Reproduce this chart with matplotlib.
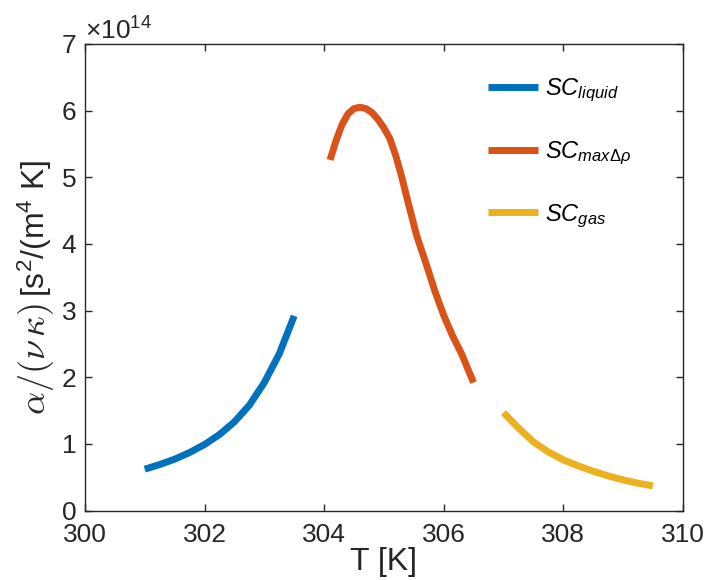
import matplotlib
matplotlib.use("Agg")
import matplotlib.pyplot as plt
from matplotlib.font_manager import FontProperties

plt.rcParams["font.family"] = ["Liberation Sans", "DejaVu Sans"]
plt.rcParams["mathtext.fontset"] = "custom"
plt.rcParams["mathtext.rm"] = "Liberation Sans"
plt.rcParams["mathtext.it"] = "Liberation Sans:italic"
plt.rcParams["mathtext.bf"] = "Liberation Sans:bold"

# 数据（单位 1e14）
t_liquid = [301.0, 301.25, 301.5, 301.75, 302.0, 302.25, 302.5, 302.75, 303.0, 303.25, 303.5]
v_liquid = [0.62, 0.69, 0.77, 0.87, 0.99, 1.14, 1.33, 1.58, 1.92, 2.35, 2.92]

t_max = [304.1, 304.2, 304.3, 304.4, 304.5, 304.6, 304.7, 304.8, 304.9, 305.0,
         305.1, 305.2, 305.3, 305.4, 305.55, 305.7, 305.85, 306.0, 306.15, 306.3, 306.5]
v_max = [5.26, 5.55, 5.79, 5.95, 6.03, 6.05, 6.03, 5.97, 5.87, 5.74,
         5.58, 5.32, 5.00, 4.64, 4.12, 3.72, 3.30, 2.93, 2.62, 2.35, 1.92]

t_gas = [307.0, 307.25, 307.5, 307.75, 308.0, 308.25, 308.5, 308.75, 309.0, 309.25, 309.5]
v_gas = [1.47, 1.24, 1.03, 0.88, 0.76, 0.67, 0.59, 0.52, 0.46, 0.41, 0.37]

labels = [r"$SC_{liquid}$", r"$SC_{max\Delta\rho}$", r"$SC_{gas}$"]
colors = ["#0072BD", "#D95319", "#EDB120"]

fig = plt.figure(figsize=(7.07, 5.8), dpi=100)
ax = fig.add_axes([0.1202, 0.1198, 0.8455, 0.8045])

for t, v, c, lab in zip([t_liquid, t_max, t_gas], [v_liquid, v_max, v_gas], colors, labels):
    ax.plot(t, [x * 1e14 for x in v], color=c, linewidth=5, solid_capstyle="butt", label=lab)

ax.set_xlim(300, 310)
ax.set_ylim(0, 7e14)
ax.set_xticks([300, 302, 304, 306, 308, 310])
ax.set_yticks([i * 1e14 for i in range(8)])
ax.ticklabel_format(axis="y", style="sci", scilimits=(0, 0), useMathText=True)

dark = "#262626"
for s in ax.spines.values():
    s.set_color(dark)
    s.set_linewidth(1.0)
ax.tick_params(direction="in", top=True, right=True, length=5, width=1.0,
               colors=dark, labelsize=19)
ax.tick_params(axis="x", pad=9)
ax.tick_params(axis="y", pad=6)
ax.yaxis.get_offset_text().set_fontsize(19)
ax.yaxis.get_offset_text().set_color(dark)

ax.set_xlabel("T [K]", fontsize=23, color=dark, labelpad=0)

# y 轴标签：希腊字母用 cm 字体，单位用无衬线
fig.text(0.0637, 0.4776, r"$\alpha/(\nu\,\kappa)$", rotation=90, rotation_mode="anchor",
         ha="right", va="baseline", fontsize=26, color=dark, math_fontfamily="cm")
fig.text(0.0637, 0.4879, r"[s$^2$/(m$^4$ K]", rotation=90, rotation_mode="anchor",
         ha="left", va="baseline", fontsize=23, color=dark)

leg = ax.legend(loc="upper left", bbox_to_anchor=(0.675, 0.93), frameon=False,
                prop=FontProperties(family="Liberation Sans", size=17),
                handlelength=2.1, handletextpad=0.3, labelspacing=1.5,
                borderpad=0, borderaxespad=0)
for txt in leg.get_texts():
    txt.set_color("black")

fig.savefig("out.png", dpi=100)
